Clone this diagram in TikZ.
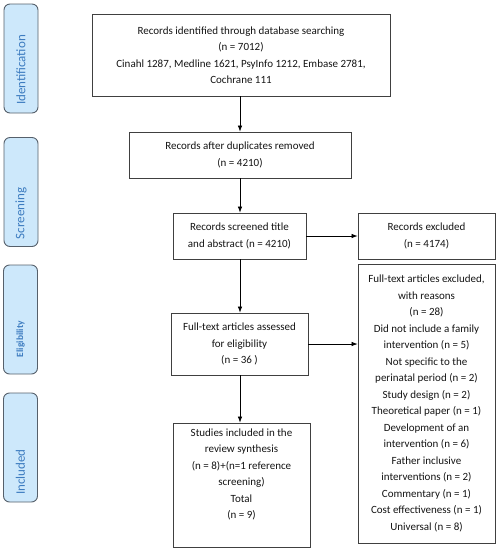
\documentclass[tikz,border=0pt]{standalone}
\usepackage{fontspec}
\setmainfont{Carlito}
\usetikzlibrary{arrows.meta}
\definecolor{sidefill}{HTML}{CDE8FB}
\definecolor{sidetext}{HTML}{3D7CC0}
\definecolor{sidedraw}{HTML}{56606B}
\definecolor{boxdraw}{HTML}{404040}
\definecolor{txt}{HTML}{141414}
\begin{document}
\begin{tikzpicture}[x=1pt,y=-1pt,
  box/.style={draw=boxdraw,line width=0.8pt,rectangle,align=center,inner sep=0pt,
    font=\fontsize{11}{16.5}\selectfont,text=txt},
  side/.style={draw=sidedraw,fill=sidefill,line width=0.9pt,rounded corners=6pt,
    minimum width=34pt,minimum height=109pt,inner sep=0pt},
  sidelab/.style={rotate=90,text=sidetext,font=\fontsize{13}{15}\selectfont},
  arr/.style={-{Latex[length=6pt,width=4.5pt]},line width=0.7pt,black}]
\useasboundingbox (0,0) rectangle (499,550);
% side labels
\node[side] (s1) at (21,58.5) {};
\node[sidelab] (t1) at (21,70) {Identification};
\node[side] (s2) at (21,192) {};
\node[sidelab] (t2) at (21,213.5) {Screening};
\node[side] (s3) at (20.5,319.5) {};
\node[sidelab,font=\bfseries\fontsize{9.5}{11}\selectfont] (t3) at (20.5,339) {Eligibility};
\node[side] (s4) at (20.5,447.5) {};
\node[sidelab] (t4) at (20.5,472) {Included};
% boxes
\node[box,minimum width=298pt,minimum height=82pt] (b1) at (241,55)
  {Records identified through database searching\\(n = 7012)\\Cinahl 1287, Medline 1621, PsyInfo 1212, Embase 2781,\\Cochrane 111};
\node[box,minimum width=222pt,minimum height=46pt] (b2) at (240,155)
  {Records after duplicates removed\\(n = 4210)};
\node[box,minimum width=133pt,minimum height=46pt] (b3) at (239.5,236)
  {Records screened title\\and abstract (n = 4210)};
\node[box,minimum width=137pt,minimum height=46pt] (e1) at (426.5,236)
  {Records excluded\\(n = 4174)};
\node[box,minimum width=137pt,minimum height=62pt] (b4) at (239.5,344)
  {Full-text articles assessed\\for eligibility\\(n = 36 )};
\node[box,minimum width=137pt,minimum height=279pt] (e2) at (426.5,403.5)
  {Full-text articles excluded,\\with reasons\\(n = 28)\\Did not include a family\\intervention (n = 5)\\Not specific to the\\perinatal period (n = 2)\\Study design (n = 2)\\Theoretical paper (n = 1)\\Development of an\\intervention (n = 6)\\Father inclusive\\interventions (n = 2)\\Commentary (n = 1)\\Cost effectiveness (n = 1)\\Universal (n = 8)};
\node[box,minimum width=137pt,minimum height=124pt,text depth=0pt] (b5) at (241.5,485)
  {Studies included in the\\review synthesis\\(n = 8)+(n=1 reference\\screening)\\Total\\(n = 9)\\[6pt]};
% arrows
\coordinate (x0) at (240,0);
\draw[arr] (b1.south -| x0) -- (b2.north -| x0);
\draw[arr] (b2.south -| x0) -- (b3.north -| x0);
\draw[arr] (b3.south -| x0) -- (b4.north -| x0);
\draw[arr] (b4.south -| x0) -- (b5.north -| x0);
\draw[arr] (b3.east) -- (e1.west);
\draw[arr] (b4.east) -- (b4.east -| e2.west);
\end{tikzpicture}
\end{document}
